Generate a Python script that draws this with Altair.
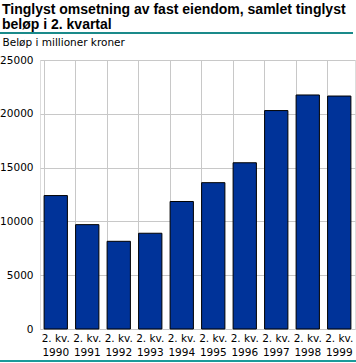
import altair as alt
import pandas as pd

years = ["1990", "1991", "1992", "1993", "1994", "1995", "1996", "1997", "1998", "1999"]
values = [12400, 9700, 8150, 8900, 11850, 13600, 15450, 20300, 21750, 21650]

df = pd.DataFrame({"year": years, "value": values})

FONT = "DejaVu Sans"

bars = alt.Chart(df).mark_bar(color="#003399", stroke="black", strokeWidth=1).encode(
    x=alt.X("year:N", sort=years,
            scale=alt.Scale(paddingInner=0.26, paddingOuter=0.13),
            axis=alt.Axis(title=None, labelAngle=0, bandPosition=0, grid=True,
                          gridColor="#c8c8c8", gridWidth=1, ticks=False, domain=False,
                          labelExpr="['2. kv.', datum.value]", labelFont=FONT,
                          labelFontSize=10.5, labelColor="black", labelPadding=4,
                          labelLineHeight=14)),
    y=alt.Y("value:Q", scale=alt.Scale(domain=[0, 25000], nice=False),
            axis=alt.Axis(title="Beløp i millioner kroner", titleAngle=0, titleAlign="left",
                          titleBaseline="bottom", titleX=-38, titleY=-13,
                          titleFont=FONT, titleFontSize=10.5, titleFontWeight="normal",
                          titleColor="black",
                          values=[0, 5000, 10000, 15000, 20000, 25000],
                          format="d", grid=True, gridColor="#c8c8c8", gridWidth=1,
                          ticks=False, domain=False, labelFont=FONT, labelFontSize=10.5,
                          labelColor="black", labelPadding=7)),
)

line_top = alt.Chart(df).mark_rule(color="#1a8a8a", strokeWidth=2).encode(
    x=alt.value(-40), x2=alt.value(313), y=alt.value(-27)
)
line_bottom = alt.Chart(df).mark_rule(color="#1a9a9a", strokeWidth=2).encode(
    x=alt.value(-40), x2=alt.value(316), y=alt.value(301)
)

chart = alt.layer(bars, line_top, line_bottom).properties(
    width=315,
    height=269,
    autosize=alt.AutoSizeParams(type="none"),
    padding={"left": 40, "top": 60, "right": 1, "bottom": 34},
    title=alt.TitleParams(
        text=["Tinglyst omsetning av fast eiendom, samlet tinglyst", "beløp i 2. kvartal"],
        anchor="start", frame="group", dx=-38, offset=0,
        font="Liberation Sans", fontSize=14, fontWeight="bold", color="black",
        lineHeight=15,
    ),
).configure_view(stroke="#c8c8c8").configure(background="white")

chart.save("out.html", embed_options={"renderer": "svg", "actions": False})
